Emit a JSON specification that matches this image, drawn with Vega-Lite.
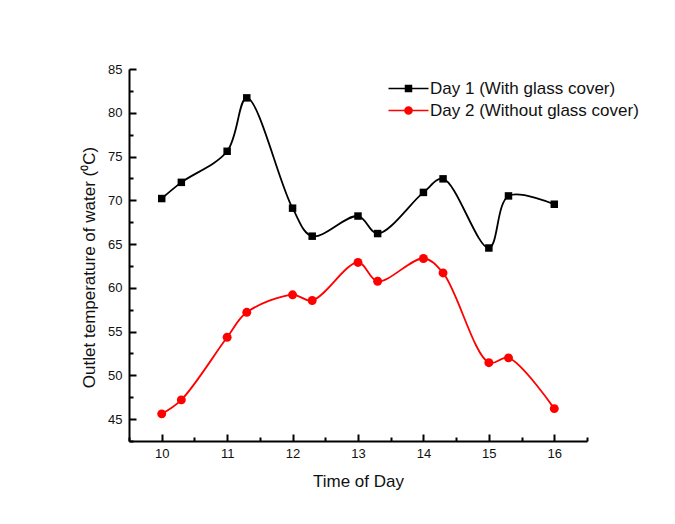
{
  "$schema": "https://vega.github.io/schema/vega-lite/v6.json",
  "width": 458,
  "height": 372,
  "autosize": "none",
  "padding": {"left": 129, "top": 69, "right": 88, "bottom": 83},
  "background": "white",
  "config": {"view": {"stroke": null}, "font": "Liberation Sans"},
  "data": {
    "values": [
      {"t": 10, "temp": 70.2, "series": "Day 1 (With glass cover)"},
      {"t": 10.3, "temp": 72.05, "series": "Day 1 (With glass cover)"},
      {"t": 11, "temp": 75.6, "series": "Day 1 (With glass cover)"},
      {"t": 11.3, "temp": 81.7, "series": "Day 1 (With glass cover)"},
      {"t": 12, "temp": 69.1, "series": "Day 1 (With glass cover)"},
      {"t": 12.3, "temp": 65.9, "series": "Day 1 (With glass cover)"},
      {"t": 13, "temp": 68.2, "series": "Day 1 (With glass cover)"},
      {"t": 13.3, "temp": 66.2, "series": "Day 1 (With glass cover)"},
      {"t": 14, "temp": 70.9, "series": "Day 1 (With glass cover)"},
      {"t": 14.3, "temp": 72.45, "series": "Day 1 (With glass cover)"},
      {"t": 15, "temp": 64.55, "series": "Day 1 (With glass cover)"},
      {"t": 15.3, "temp": 70.5, "series": "Day 1 (With glass cover)"},
      {"t": 16, "temp": 69.55, "series": "Day 1 (With glass cover)"},
      {"t": 10, "temp": 45.6, "series": "Day 2 (Without glass cover)"},
      {"t": 10.3, "temp": 47.2, "series": "Day 2 (Without glass cover)"},
      {"t": 11, "temp": 54.35, "series": "Day 2 (Without glass cover)"},
      {"t": 11.3, "temp": 57.2, "series": "Day 2 (Without glass cover)"},
      {"t": 12, "temp": 59.2, "series": "Day 2 (Without glass cover)"},
      {"t": 12.3, "temp": 58.55, "series": "Day 2 (Without glass cover)"},
      {"t": 13, "temp": 62.9, "series": "Day 2 (Without glass cover)"},
      {"t": 13.3, "temp": 60.75, "series": "Day 2 (Without glass cover)"},
      {"t": 14, "temp": 63.35, "series": "Day 2 (Without glass cover)"},
      {"t": 14.3, "temp": 61.7, "series": "Day 2 (Without glass cover)"},
      {"t": 15, "temp": 51.45, "series": "Day 2 (Without glass cover)"},
      {"t": 15.3, "temp": 52.0, "series": "Day 2 (Without glass cover)"},
      {"t": 16, "temp": 46.2, "series": "Day 2 (Without glass cover)"}
    ]
  },
  "encoding": {
    "x": {
      "field": "t",
      "type": "quantitative",
      "scale": {"domain": [9.5, 16.5], "nice": false, "zero": false},
      "axis": {
        "title": "Time of Day",
        "values": [9.5, 10, 10.5, 11, 11.5, 12, 12.5, 13, 13.5, 14, 14.5, 15, 15.5, 16, 16.5],
        "labelExpr": "datum.value % 1 === 0 ? format(datum.value, 'd') : ''",
        "tickSize": {"condition": {"test": "datum.value % 1 === 0", "value": -7}, "value": -4},
        "grid": false,
        "domainColor": "black",
        "domainWidth": 2,
        "tickColor": "black",
        "tickWidth": 2,
        "labelFontSize": 13,
        "labelColor": "#111",
        "labelPadding": 13,
        "labelFlush": false,
        "labelOverlap": false,
        "titleFontSize": 17,
        "titleFontWeight": "normal",
        "titleColor": "#111",
        "titlePadding": 10
      }
    },
    "y": {
      "field": "temp",
      "type": "quantitative",
      "scale": {"domain": [42.5, 85], "nice": false, "zero": false},
      "axis": {
        "title": "Outlet temperature of water (⁰C)",
        "values": [42.5, 45, 47.5, 50, 52.5, 55, 57.5, 60, 62.5, 65, 67.5, 70, 72.5, 75, 77.5, 80, 82.5, 85],
        "labelExpr": "datum.value % 5 === 0 ? format(datum.value, 'd') : ''",
        "tickSize": {"condition": {"test": "datum.value % 5 === 0", "value": -7}, "value": -4},
        "grid": false,
        "domainColor": "black",
        "domainWidth": 2,
        "tickColor": "black",
        "tickWidth": 2,
        "labelFontSize": 13,
        "labelColor": "#111",
        "labelPadding": 14,
        "labelFlush": false,
        "labelOverlap": false,
        "titleFontSize": 17,
        "titleFontWeight": "normal",
        "titleColor": "#111",
        "titlePadding": 9,
        "titleY": 198
      }
    },
    "color": {
      "field": "series",
      "type": "nominal",
      "scale": {"domain": ["Day 1 (With glass cover)", "Day 2 (Without glass cover)"], "range": ["#000000", "#ff0000"]},
      "legend": {
        "title": null,
        "orient": "none",
        "legendX": 271,
        "legendY": 11,
        "padding": 0,
        "labelFontSize": 17,
        "labelColor": "#111",
        "labelOffset": 13,
        "labelLimit": 400,
        "rowPadding": 4,
        "symbolSize": 100,
        "symbolStrokeWidth": 1.5
      }
    }
  },
  "layer": [
    {"mark": {"type": "line", "interpolate": "catmull-rom", "strokeWidth": 1.8}},
    {
      "transform": [{"filter": "datum.series === 'Day 1 (With glass cover)'"}],
      "mark": {"type": "point", "filled": true, "opacity": 1, "shape": "square", "size": 56}
    },
    {
      "transform": [{"filter": "datum.series === 'Day 2 (Without glass cover)'"}],
      "mark": {"type": "point", "filled": true, "opacity": 1, "shape": "circle", "size": 80}
    },
    {
      "transform": [{"filter": "false"}],
      "mark": {"type": "point", "filled": true, "opacity": 1},
      "encoding": {
        "shape": {
          "field": "series",
          "type": "nominal",
          "scale": {"domain": ["Day 1 (With glass cover)", "Day 2 (Without glass cover)"], "range": ["M-4,0H4M-0.6,-0.6H0.6V0.6H-0.6Z", "M-4,0H4M0.72,0A0.72,0.72,0,1,1,-0.72,0A0.72,0.72,0,1,1,0.72,0Z"]},
          "legend": {
            "title": null,
            "orient": "none",
            "legendX": 271,
            "legendY": 11,
            "padding": 0,
            "labelFontSize": 17,
            "labelColor": "#111",
            "labelOffset": 13,
            "labelLimit": 400,
            "rowPadding": 4,
            "symbolSize": 100,
            "symbolStrokeWidth": 1.5
          }
        }
      }
    }
  ]
}
